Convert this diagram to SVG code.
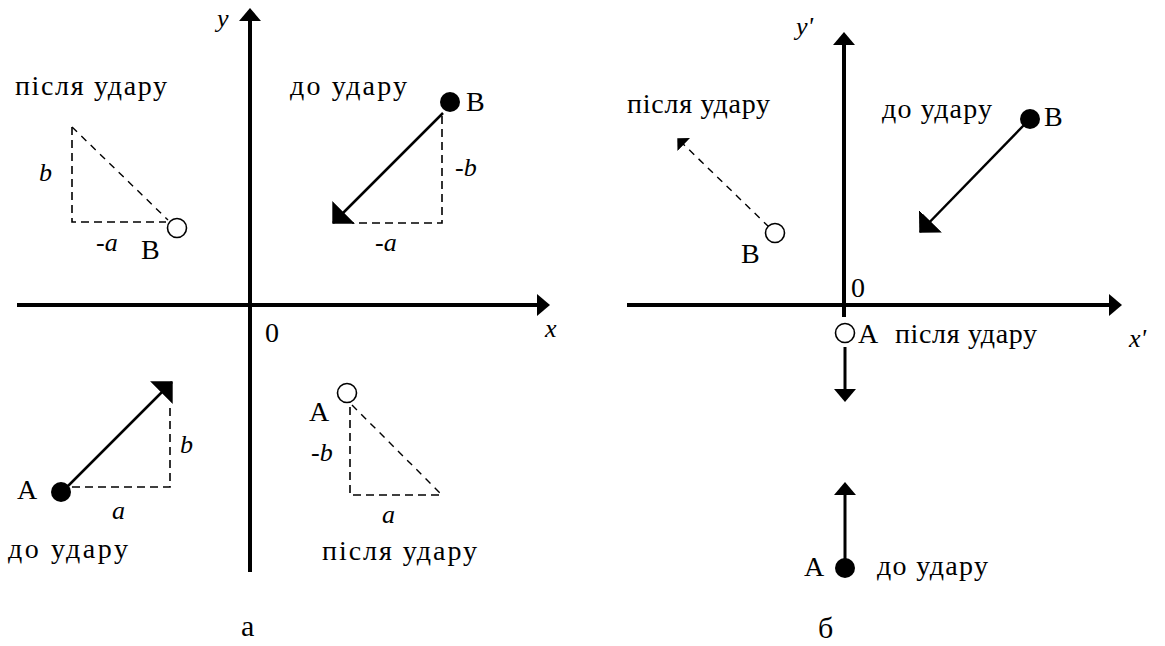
<svg xmlns="http://www.w3.org/2000/svg" width="1165" height="646" viewBox="0 0 1165 646">
<style>
.t{font-family:"Liberation Serif","DejaVu Serif",serif;font-size:28px;fill:#000}
.i{font-family:"Liberation Serif","DejaVu Serif",serif;font-size:26px;font-style:italic;fill:#000}
.cap{font-family:"Liberation Serif","DejaVu Serif",serif;font-size:30px;fill:#000}
.ax{stroke:#000;stroke-width:4;fill:none}
.vec{stroke:#000;stroke-width:2.5;fill:none}
.vvec{stroke:#000;stroke-width:3;fill:none}
.dash{stroke:#000;stroke-width:1.6;fill:none;stroke-dasharray:8 5}
.ddash{stroke:#000;stroke-width:1.4;fill:none;stroke-dasharray:7 6}
.open{fill:#fff;stroke:#000;stroke-width:1.6}
.fill{fill:#000}
</style>
<defs>
<marker id="axhead" markerUnits="userSpaceOnUse" viewBox="0 0 13 22" markerWidth="13" markerHeight="22" refX="10" refY="11" orient="auto">
<path d="M0,0 L13,11 L0,22 z" fill="#000"/>
</marker>
<marker id="vhead" markerUnits="userSpaceOnUse" viewBox="0 0 16 32" markerWidth="16" markerHeight="32" refX="15" refY="16" orient="auto">
<path d="M0,0 L16,16 L0,32 z" fill="#000"/>
</marker>
<marker id="shead" markerUnits="userSpaceOnUse" viewBox="0 0 9 18" markerWidth="9" markerHeight="18" refX="8" refY="9" orient="auto">
<path d="M0,0 L9,9 L0,18 z" fill="#000"/>
</marker>
</defs>
<rect width="1165" height="646" fill="#fff"/>

<g id="panel-a">
<g id="connectors-a">
<line class="ax" x1="250" y1="572" x2="250" y2="11" marker-end="url(#axhead)"/>
<line class="ax" x1="17" y1="305" x2="547" y2="305" marker-end="url(#axhead)"/>
<line class="vec" x1="443" y1="113" x2="333" y2="223" marker-end="url(#vhead)"/>
<line class="vec" x1="68" y1="486" x2="172" y2="382" marker-end="url(#vhead)"/>
<path class="dash" d="M442,116 L442,223 L352,223"/>
<path class="dash" d="M72,127 L72,222 L166,222"/>
<path class="ddash" d="M72,127 L168,220"/>
<path class="dash" d="M72,487 L170,487 L170,405"/>
<path class="dash" d="M350,407 L350,495 L440,495"/>
<path class="ddash" d="M352,405 L440,493"/>
</g>
<text class="i" x="217" y="27">y</text>
<text class="i" x="545" y="337">x</text>
<text class="t" x="265" y="342">0</text>
<g id="B-before-a">
<circle class="fill" cx="450" cy="102" r="10"/>
<text class="t" x="466" y="111">B</text>
<text class="t" x="290" y="95" textLength="117" lengthAdjust="spacing">до удару</text>
<text class="i" x="455" y="176">-b</text>
<text class="i" x="375" y="251">-a</text>
</g>
<g id="B-after-a">
<circle class="open" cx="177" cy="228" r="9.5"/>
<text class="t" x="141" y="259">B</text>
<text class="t" x="15" y="95" textLength="152" lengthAdjust="spacing">після удару</text>
<text class="i" x="39" y="181">b</text>
<text class="i" x="96" y="251">-a</text>
</g>
<g id="A-before-a">
<circle class="fill" cx="61" cy="492" r="10"/>
<text class="t" x="17" y="499">A</text>
<text class="t" x="8" y="558" textLength="120" lengthAdjust="spacing">до удару</text>
<text class="i" x="180" y="453">b</text>
<text class="i" x="112" y="519">a</text>
</g>
<g id="A-after-a">
<circle class="open" cx="347" cy="393" r="9.5"/>
<text class="t" x="309" y="421">A</text>
<text class="t" x="322" y="560" textLength="155" lengthAdjust="spacing">після удару</text>
<text class="i" x="311" y="461">-b</text>
<text class="i" x="382" y="523">a</text>
</g>
<text class="cap" x="241" y="636">а</text>
</g>

<g id="panel-b">
<g id="connectors-b">
<line class="ax" x1="844" y1="317" x2="844" y2="35" marker-end="url(#axhead)"/>
<line class="ax" x1="627" y1="305" x2="1119" y2="305" marker-end="url(#axhead)"/>
<line class="vec" x1="1024" y1="125" x2="920" y2="232" marker-end="url(#vhead)"/>
<line class="ddash" x1="769" y1="227" x2="678" y2="139" marker-end="url(#shead)"/>
<line class="vvec" x1="845" y1="347" x2="845" y2="399" marker-end="url(#axhead)"/>
<line class="vvec" x1="845" y1="560" x2="845" y2="485" marker-end="url(#axhead)"/>
</g>
<text class="i" x="796" y="35">y'</text>
<text class="i" x="1129" y="347">x'</text>
<text class="t" x="851" y="297">0</text>
<g id="B-before-b">
<circle class="fill" cx="1030" cy="119" r="10"/>
<text class="t" x="1044" y="126">B</text>
<text class="t" x="882" y="118" textLength="110" lengthAdjust="spacing">до удару</text>
</g>
<g id="B-after-b">
<circle class="open" cx="775" cy="233" r="9.5"/>
<text class="t" x="741" y="263">B</text>
<text class="t" x="627" y="113" textLength="143" lengthAdjust="spacing">після удару</text>
</g>
<g id="A-after-b">
<circle class="open" cx="845" cy="333" r="9.5"/>
<text class="t" x="858" y="343">A</text>
<text class="t" x="895" y="343" textLength="142" lengthAdjust="spacing">після удару</text>
</g>
<g id="A-before-b">
<circle class="fill" cx="845" cy="568" r="10"/>
<text class="t" x="804" y="576">A</text>
<text class="t" x="877" y="575" textLength="111" lengthAdjust="spacing">до удару</text>
</g>
<text class="cap" x="818" y="638">б</text>
</g>
</svg>
